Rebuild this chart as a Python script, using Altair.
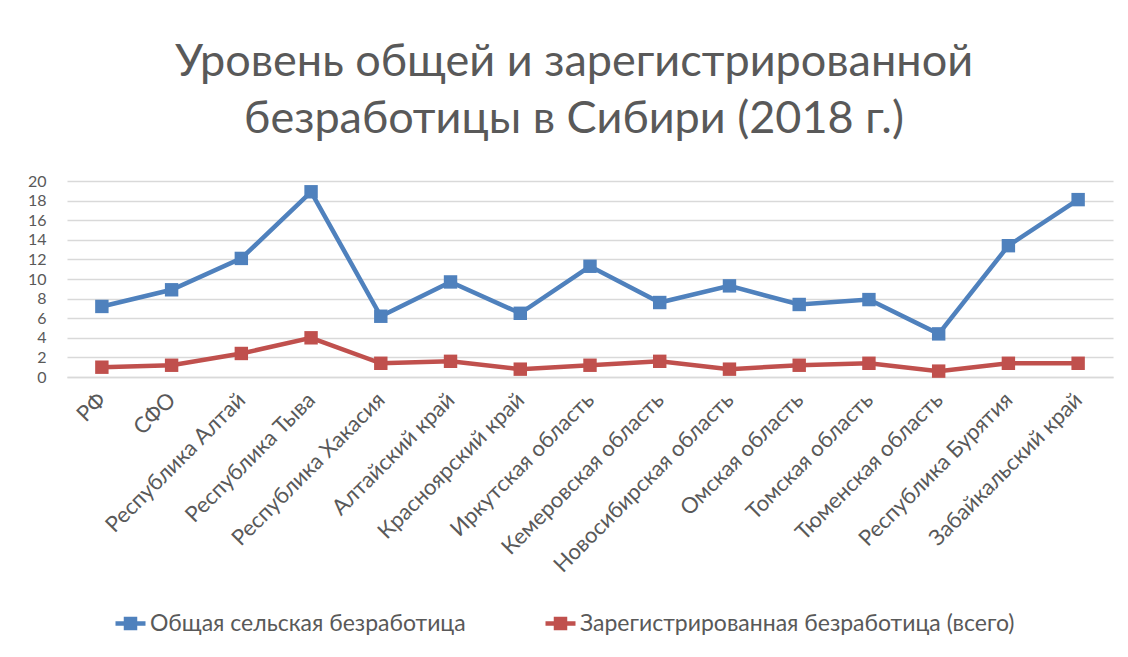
import altair as alt
import pandas as pd

regions = ["РФ", "СФО", "Республика Алтай", "Республика Тыва", "Республика Хакасия",
           "Алтайский край", "Красноярский край", "Иркутская область", "Кемеровская область",
           "Новосибирская область", "Омская область", "Томская область", "Тюменская область",
           "Республика Бурятия", "Забайкальский край"]
total_rural = [7.2, 8.9, 12.1, 18.9, 6.2, 9.7, 6.5, 11.3, 7.6, 9.3, 7.4, 7.9, 4.4, 13.4, 18.1]
registered = [1.0, 1.2, 2.4, 4.0, 1.4, 1.6, 0.8, 1.2, 1.6, 0.8, 1.2, 1.4, 0.6, 1.4, 1.4]
series_names = ["Общая сельская безработица", "Зарегистрированная безработица (всего)"]
colors = ["#4F81BD", "#C0504D"]
y_ticks = [0, 2, 4, 6, 8, 10, 12, 14, 16, 18, 20]

rows = []
for i, r in enumerate(regions):
    rows.append({"region": r, "series": series_names[0], "value": total_rural[i], "order": i})
    rows.append({"region": r, "series": series_names[1], "value": registered[i], "order": i})
df = pd.DataFrame(rows)

FONT = "Lato"
GRAY = "#595959"

legend_symbol = "M-1,0 L1,0 M-0.3,-0.3 L0.3,-0.3 L0.3,0.3 L-0.3,0.3 Z"

chart = alt.Chart(df).mark_line(
    strokeWidth=4.5,
    point=alt.OverlayMarkDef(shape="square", size=180, filled=True, opacity=1),
).encode(
    x=alt.X("region:N", sort=regions, title=None,
            scale=alt.Scale(paddingInner=1, paddingOuter=0.5),
            axis=alt.Axis(labelAngle=-45, labelAlign="right", labelBaseline="middle",
                          labelFontSize=22, labelColor=GRAY, labelFont=FONT,
                          ticks=False, domainColor="#d9d9d9", domainWidth=1.5,
                          labelPadding=19, grid=False, labelLimit=0, labelOverlap=False)),
    y=alt.Y("value:Q", title=None,
            scale=alt.Scale(domain=[0, 20], nice=False),
            axis=alt.Axis(values=y_ticks, labelFontSize=16, labelColor=GRAY, labelFont=FONT,
                          ticks=False, domain=False, gridColor="#d9d9d9", gridWidth=1.5,
                          labelPadding=21, labelOverlap=False)),
    color=alt.Color("series:N", sort=series_names,
                    scale=alt.Scale(domain=series_names, range=colors),
                    legend=alt.Legend(title=None, orient="none", direction="horizontal",
                                      legendX=46, legendY=425,
                                      symbolType=legend_symbol, symbolSize=900,
                                      symbolStrokeWidth=4.5,
                                      labelFontSize=23, labelColor=GRAY, labelFont=FONT,
                                      labelLimit=0,
                                      columnPadding=70, labelOffset=2)),
).properties(
    width=1046,
    height=196,
    title=alt.TitleParams(
        text=["Уровень общей и зарегистрированной", "безработицы в Сибири (2018 г.)"],
        fontSize=45, font=FONT, color=GRAY, fontWeight="normal",
        anchor="middle", dx=-16, offset=31, lineHeight=57,
    ),
    autosize=alt.AutoSizeParams(type="none"),
    padding={"left": 59, "top": 173, "right": 7, "bottom": 272},
    background="white",
).configure_view(stroke=None)

chart.save("out.html", embed_options={"renderer": "svg", "actions": False})
